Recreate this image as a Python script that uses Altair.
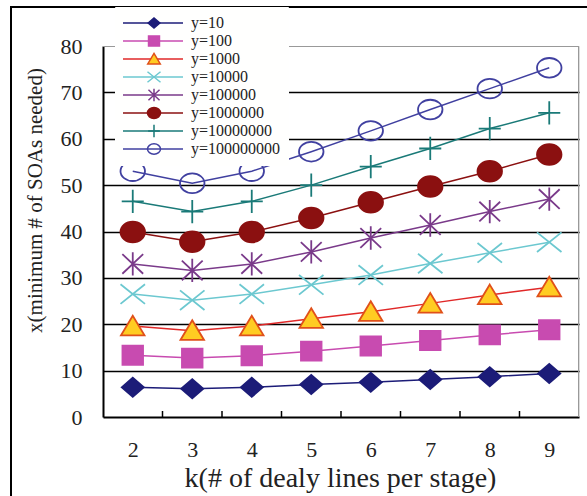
import altair as alt
import pandas as pd

k_values = [2, 3, 4, 5, 6, 7, 8, 9]
series_names = ["y=10", "y=100", "y=1000", "y=10000", "y=100000",
                "y=1000000", "y=10000000", "y=100000000"]

s_10 = [6.4, 6.1, 6.4, 7.0, 7.5, 8.1, 8.7, 9.4]
s_100 = [13.3, 12.7, 13.2, 14.2, 15.3, 16.5, 17.7, 18.8]
s_1000 = [19.6, 18.6, 19.6, 21.2, 22.7, 24.5, 26.3, 28.0]
s_10000 = [26.5, 25.2, 26.5, 28.5, 30.6, 33.1, 35.4, 37.7]
s_100000 = [33.0, 31.6, 33.0, 35.6, 38.6, 41.4, 44.3, 47.0]
s_1e6 = [39.9, 37.8, 39.9, 42.9, 46.3, 49.7, 53.0, 56.6]
s_1e7 = [46.5, 44.3, 46.5, 50.0, 54.0, 57.9, 62.2, 65.6]
s_1e8 = [53.0, 50.4, 53.0, 57.2, 61.7, 66.3, 70.8, 75.3]

all_series = [s_10, s_100, s_1000, s_10000, s_100000, s_1e6, s_1e7, s_1e8]

line_colors = ["#1c1c78", "#c84bb0", "#e02828", "#6cc8d0", "#7a3a8a",
               "#8b1010", "#1a7a78", "#4040a0"]
stroke_colors = ["#1c1c78", "#c84bb0", "#e0501a", "#6cc8d0", "#7a3a8a",
                 "#8b1010", "#1a7a78", "#4040a0"]
fill_colors = ["#1c1c78", "#c84bb0", "#ffcc22", "transparent", "transparent",
               "#8b1010", "transparent", "transparent"]
shapes = [
    "M-0.9,0L0,-0.78L0.9,0L0,0.78Z",
    "M-0.84,-0.78H0.84V0.78H-0.84Z",
    "M0,-0.85L0.96,0.75L-0.96,0.75Z",
    "M-1,-0.8L1,0.8M-1,0.8L1,-0.8",
    "M-0.85,-0.8L0.85,0.8M-0.85,0.8L0.85,-0.8M0,-0.95L0,0.95",
    "M-1,0A1,0.85,0,1,1,1,0A1,0.85,0,1,1,-1,0Z",
    "M-0.9,0L0.9,0M0,-0.95L0,0.95",
    "M-1,0A1,0.8,0,1,1,1,0A1,0.8,0,1,1,-1,0Z",
]

rows = []
for name, vals in zip(series_names, all_series):
    for k, v in zip(k_values, vals):
        rows.append({"k": k, "x": v, "series": name})
df = pd.DataFrame(rows)

bounds = pd.DataFrame({"b": [k + 0.5 for k in k_values[:-1]]})

W, H = 476, 371
FONT = "Liberation Serif"

x_enc = alt.X(
    "k:Q",
    scale=alt.Scale(domain=[1.5, 9.5], nice=False, zero=False),
    axis=alt.Axis(
        values=k_values, format="d", ticks=False, grid=False, domainColor="black",
        domainWidth=2, labelFont=FONT, labelFontSize=22, labelColor="#222",
        labelPadding=22, title="k(# of dealy lines per stage)",
        titleFont=FONT, titleFontSize=28, titleFontWeight="normal",
        titleColor="#222", titleX=237, titleY=61, titleBaseline="middle",
    ),
)
y_enc = alt.Y(
    "x:Q",
    scale=alt.Scale(domain=[0, 80], nice=False),
    axis=alt.Axis(
        values=[0, 10, 20, 30, 40, 50, 60, 70, 80], ticks=False, grid=True,
        gridColor="black", gridWidth=1.5,
        gridOpacity=alt.condition("datum.value == 0 || datum.value == 80",
                                  alt.value(0), alt.value(1)),
        domainColor="black", domainWidth=2, labelFont=FONT, labelFontSize=22,
        labelColor="#222", labelPadding=21,
        title="x(minimum # of SOAs needed)", titleFont=FONT, titleFontSize=21,
        titleFontWeight="normal", titleColor="#222", titleX=-68, titleY=154,
        titleAngle=270, titleBaseline="middle", titleAlign="center",
    ),
)

base = alt.Chart(df)

lines = base.mark_line(strokeWidth=1.5).encode(
    x=x_enc, y=y_enc,
    color=alt.Color(
        "series:N",
        scale=alt.Scale(domain=series_names, range=line_colors),
        legend=alt.Legend(
            orient="none", legendX=12, legendY=-39, padding=7,
            fillColor="#fffffe", strokeColor="#fffffe", title=None,
            symbolType="stroke", symbolSize=3600, symbolStrokeWidth=1.5,
            clipHeight=18, rowPadding=0, labelFont=FONT, labelFontSize=16,
            labelColor="#222", labelOffset=7, labelLimit=300, zindex=1,
        ),
    ),
    order="k:Q",
)

pt_legend = alt.Legend(
    orient="none", legendX=37, legendY=-38, padding=6, title=None,
    symbolSize=170, symbolStrokeWidth=1.5, clipHeight=18, rowPadding=0,
    labelExpr="''", labelFontSize=16, zindex=2,
)
points = base.mark_point(size=600, strokeWidth=1.8, opacity=1).encode(
    x="k:Q", y="x:Q",
    shape=alt.Shape("series:N", scale=alt.Scale(domain=series_names, range=shapes),
                    legend=pt_legend),
    fill=alt.Fill("series:N", scale=alt.Scale(domain=series_names, range=fill_colors),
                  legend=pt_legend),
    stroke=alt.Stroke("series:N", scale=alt.Scale(domain=series_names, range=stroke_colors),
                      legend=pt_legend),
)

inner_ticks = alt.Chart(bounds).mark_rule(color="black", strokeWidth=1.5).encode(
    x="b:Q", y=alt.value(H), y2=alt.value(H - 6)
)

top_border = alt.Chart(bounds).mark_rule(color="#999", strokeWidth=1).encode(
    x=alt.value(0), x2=alt.value(W), y=alt.value(0.5)
)
right_border = alt.Chart(bounds).mark_rule(color="#999", strokeWidth=1).encode(
    x=alt.value(W - 0.5), y=alt.value(0), y2=alt.value(H)
)

outer_frame = alt.Chart(bounds).mark_rect(
    fill=None, stroke="black", strokeWidth=2
).encode(x=alt.value(11 - 103), x2=alt.value(560), y=alt.value(7 - 46),
         y2=alt.value(520))

chart = alt.layer(outer_frame, top_border, right_border, inner_ticks, lines, points).resolve_scale(
    color="independent", fill="independent", stroke="independent", shape="independent"
).resolve_legend(
    color="independent", fill="independent", stroke="independent", shape="independent"
).properties(
    width=W, height=H,
    autosize=alt.AutoSizeParams(type="none"),
    padding={"left": 103, "top": 46, "right": 8, "bottom": 79},
).configure_view(stroke=None).configure(background="white")

chart.save("out.html", embed_options={"renderer": "svg", "actions": False})
